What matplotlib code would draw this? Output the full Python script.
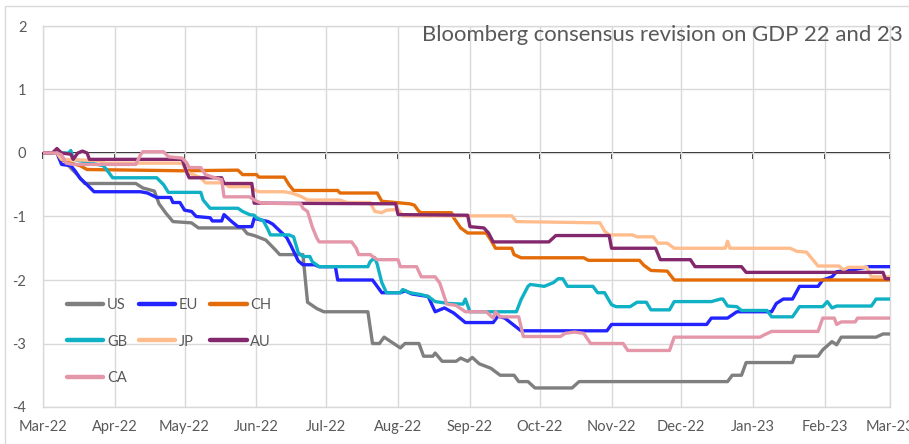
import matplotlib
matplotlib.use("Agg")
import matplotlib.pyplot as plt
import pandas as pd
from matplotlib.patches import Rectangle

plt.rcParams['font.family'] = ['Lato', 'DejaVu Sans']
plt.rcParams['axes.unicode_minus'] = False

title = "Bloomberg consensus revision on GDP 22 and 23"

month_starts = ["2022-03-01", "2022-04-01", "2022-05-01", "2022-06-01", "2022-07-01",
                "2022-08-01", "2022-09-01", "2022-10-01", "2022-11-01", "2022-12-01",
                "2023-01-01", "2023-02-01", "2023-03-01"]
month_labels = ["Mar-22", "Apr-22", "May-22", "Jun-22", "Jul-22", "Aug-22", "Sep-22",
                "Oct-22", "Nov-22", "Dec-22", "Jan-23", "Feb-23", "Mar-23"]
y_ticks = [-4, -3, -2, -1, 0, 1, 2]
y_labels = ["-4", "-3", "-2", "-1", "0", "1", "2"]

# Revision paths (percentage points) at each change date
us_dates = ["2022-03-01", "2022-03-08", "2022-03-12", "2022-03-16", "2022-03-19", "2022-04-10",
            "2022-04-13", "2022-04-18", "2022-04-20", "2022-04-23", "2022-04-26", "2022-05-04",
            "2022-05-07", "2022-05-26", "2022-05-28", "2022-05-31", "2022-06-05", "2022-06-09",
            "2022-06-11", "2022-06-21", "2022-06-23", "2022-06-27", "2022-06-30", "2022-07-19",
            "2022-07-21", "2022-07-24", "2022-07-26", "2022-08-02", "2022-08-04", "2022-08-10",
            "2022-08-12", "2022-08-16", "2022-08-17", "2022-08-20", "2022-08-26", "2022-08-28",
            "2022-08-31", "2022-09-02", "2022-09-05", "2022-09-10", "2022-09-14", "2022-09-20",
            "2022-09-22", "2022-09-26", "2022-09-29", "2022-10-15", "2022-10-18", "2022-12-21",
            "2022-12-23", "2022-12-27", "2022-12-29", "2023-01-18", "2023-01-19", "2023-01-29",
            "2023-01-31", "2023-02-04", "2023-02-06", "2023-02-08", "2023-02-23", "2023-02-26",
            "2023-03-01"]
us_vals = [0, 0, -0.2, -0.35, -0.48, -0.48,
           -0.55, -0.6, -0.8, -0.95, -1.08, -1.1,
           -1.18, -1.18, -1.27, -1.3, -1.37, -1.52,
           -1.6, -1.6, -2.35, -2.45, -2.5, -2.5,
           -3.0, -3.0, -2.9, -3.07, -3.0, -3.0,
           -3.2, -3.2, -3.15, -3.28, -3.28, -3.23,
           -3.28, -3.22, -3.32, -3.39, -3.5, -3.5,
           -3.6, -3.6, -3.7, -3.7, -3.6, -3.6,
           -3.5, -3.5, -3.3, -3.3, -3.2, -3.2,
           -3.1, -2.97, -3.02, -2.9, -2.9, -2.85,
           -2.85]

eu_dates = ["2022-03-01", "2022-03-07", "2022-03-09", "2022-03-13", "2022-03-15", "2022-03-17",
            "2022-03-20", "2022-03-23", "2022-04-12", "2022-04-15", "2022-04-19", "2022-04-25",
            "2022-04-26", "2022-04-29", "2022-05-01", "2022-05-04", "2022-05-06", "2022-05-12",
            "2022-05-13", "2022-05-17", "2022-05-18", "2022-05-21", "2022-05-24", "2022-05-30",
            "2022-05-31", "2022-06-06", "2022-06-08", "2022-06-14", "2022-06-16", "2022-06-19",
            "2022-06-21", "2022-06-26", "2022-06-28", "2022-07-05", "2022-07-06", "2022-07-21",
            "2022-07-25", "2022-08-02", "2022-08-04", "2022-08-07", "2022-08-14", "2022-08-17",
            "2022-08-21", "2022-08-25", "2022-08-30", "2022-09-11", "2022-09-13", "2022-09-16",
            "2022-09-23", "2022-10-30", "2022-11-01", "2022-12-12", "2022-12-14", "2022-12-21",
            "2022-12-25", "2023-01-09", "2023-01-11", "2023-01-14", "2023-01-18", "2023-01-21",
            "2023-01-29", "2023-01-31", "2023-02-04", "2023-02-06", "2023-02-13", "2023-02-20",
            "2023-03-01"]
eu_vals = [0, 0, -0.18, -0.2, -0.29, -0.4,
           -0.5, -0.61, -0.61, -0.63, -0.7, -0.7,
           -0.78, -0.78, -0.9, -0.92, -1.0, -1.02,
           -1.07, -1.07, -0.97, -1.07, -1.16, -1.16,
           -1.03, -1.08, -1.12, -1.33, -1.47, -1.7,
           -1.76, -1.76, -1.79, -1.79, -2.0, -2.0,
           -2.2, -2.2, -2.17, -2.22, -2.26, -2.5,
           -2.44, -2.52, -2.67, -2.67, -2.57, -2.6,
           -2.8, -2.8, -2.7, -2.7, -2.6, -2.6,
           -2.5, -2.5, -2.37, -2.3, -2.3, -2.1,
           -2.1, -2.0, -1.95, -1.87, -1.84, -1.79,
           -1.79]

ch_dates = ["2022-03-01", "2022-03-07", "2022-03-09", "2022-03-11", "2022-03-17", "2022-03-20",
            "2022-04-30", "2022-05-24", "2022-05-26", "2022-06-01", "2022-06-02", "2022-06-13",
            "2022-06-15", "2022-06-17", "2022-07-06", "2022-07-07", "2022-07-23", "2022-07-25",
            "2022-08-06", "2022-08-08", "2022-08-10", "2022-08-11", "2022-08-24", "2022-08-25",
            "2022-08-28", "2022-08-31", "2022-09-08", "2022-09-10", "2022-09-12", "2022-09-19",
            "2022-09-20", "2022-09-23", "2022-10-20", "2022-10-22", "2022-11-13", "2022-11-15",
            "2022-11-18", "2022-11-25", "2022-11-28", "2023-03-01"]
ch_vals = [0, 0, -0.1, -0.14, -0.2, -0.26,
           -0.28, -0.27, -0.34, -0.34, -0.38, -0.38,
           -0.5, -0.59, -0.59, -0.63, -0.63, -0.76,
           -0.8, -0.82, -0.92, -0.94, -0.94, -1.02,
           -1.18, -1.26, -1.26, -1.37, -1.5, -1.5,
           -1.6, -1.65, -1.65, -1.69, -1.69, -1.77,
           -1.85, -1.86, -2.0, -2.0]

gb_dates = ["2022-03-01", "2022-03-12", "2022-03-13", "2022-03-14", "2022-03-27", "2022-03-29",
            "2022-03-31", "2022-04-19", "2022-04-22", "2022-04-24", "2022-05-08", "2022-05-09",
            "2022-05-12", "2022-05-24", "2022-05-26", "2022-05-29", "2022-05-31", "2022-06-01",
            "2022-06-04", "2022-06-06", "2022-06-07", "2022-06-15", "2022-06-17", "2022-06-19",
            "2022-06-21", "2022-06-24", "2022-06-25", "2022-06-28", "2022-07-19", "2022-07-20",
            "2022-07-22", "2022-07-23", "2022-07-25", "2022-07-27", "2022-08-02", "2022-08-03",
            "2022-08-06", "2022-08-11", "2022-08-14", "2022-08-17", "2022-08-23", "2022-08-29",
            "2022-08-30", "2022-09-01", "2022-09-21", "2022-09-23", "2022-09-26", "2022-09-27",
            "2022-10-03", "2022-10-07", "2022-10-09", "2022-10-11", "2022-10-13", "2022-10-24",
            "2022-10-26", "2022-10-29", "2022-11-01", "2022-11-03", "2022-11-09", "2022-11-12",
            "2022-11-16", "2022-11-18", "2022-11-26", "2022-11-28", "2022-12-14", "2022-12-18",
            "2022-12-19", "2022-12-21", "2022-12-25", "2022-12-27", "2023-01-07", "2023-01-09",
            "2023-01-18", "2023-01-21", "2023-01-31", "2023-02-02", "2023-02-04", "2023-02-06",
            "2023-02-21", "2023-02-23", "2023-03-01"]
gb_vals = [0, 0, 0.04, -0.1, -0.2, -0.29,
           -0.39, -0.39, -0.5, -0.62, -0.62, -0.74,
           -0.87, -0.87, -0.92, -0.97, -0.98, -1.02,
           -1.07, -1.21, -1.29, -1.29, -1.32, -1.57,
           -1.63, -1.63, -1.71, -1.79, -1.79, -1.71,
           -1.65, -1.75, -2.04, -2.2, -2.2, -2.15,
           -2.2, -2.23, -2.26, -2.34, -2.37, -2.38,
           -2.3, -2.5, -2.5, -2.31, -2.1, -2.07,
           -2.1, -2.04, -1.98, -1.98, -2.1, -2.1,
           -2.2, -2.2, -2.39, -2.42, -2.42, -2.35,
           -2.35, -2.47, -2.47, -2.34, -2.34, -2.3,
           -2.3, -2.41, -2.42, -2.48, -2.48, -2.58,
           -2.58, -2.42, -2.42, -2.34, -2.44, -2.41,
           -2.41, -2.3, -2.3]

jp_dates = ["2022-03-01", "2022-03-07", "2022-03-09", "2022-03-25", "2022-03-28", "2022-04-30",
            "2022-05-02", "2022-05-08", "2022-05-10", "2022-05-18", "2022-05-20", "2022-05-30",
            "2022-05-31", "2022-06-02", "2022-06-13", "2022-06-16", "2022-06-20", "2022-06-23",
            "2022-07-07", "2022-07-10", "2022-07-20", "2022-07-22", "2022-07-25", "2022-07-27",
            "2022-08-01", "2022-08-03", "2022-09-19", "2022-09-21", "2022-10-27", "2022-10-29",
            "2022-10-31", "2022-11-10", "2022-11-12", "2022-11-19", "2022-11-21", "2022-11-25",
            "2022-11-28", "2022-12-20", "2022-12-21", "2022-12-22", "2023-01-17", "2023-01-20",
            "2023-01-24", "2023-01-29", "2023-02-07", "2023-02-09", "2023-02-11", "2023-02-19",
            "2023-02-21", "2023-03-01"]
jp_vals = [0, 0, -0.1, -0.12, -0.16, -0.16,
           -0.3, -0.39, -0.47, -0.47, -0.53, -0.53,
           -0.58, -0.61, -0.61, -0.63, -0.68, -0.74,
           -0.74, -0.78, -0.78, -0.92, -0.94, -0.9,
           -0.89, -0.99, -0.99, -1.08, -1.1, -1.23,
           -1.29, -1.29, -1.32, -1.32, -1.42, -1.42,
           -1.5, -1.5, -1.39, -1.5, -1.5, -1.55,
           -1.56, -1.78, -1.78, -1.84, -1.8, -1.8,
           -1.95, -1.95]

au_dates = ["2022-03-01", "2022-03-05", "2022-03-07", "2022-03-09", "2022-03-13", "2022-03-14",
            "2022-03-16", "2022-03-18", "2022-03-20", "2022-03-21", "2022-04-30", "2022-05-02",
            "2022-05-03", "2022-05-17", "2022-05-18", "2022-05-30", "2022-05-31", "2022-07-31",
            "2022-08-01", "2022-08-31", "2022-09-01", "2022-09-07", "2022-09-09", "2022-09-11",
            "2022-10-05", "2022-10-08", "2022-10-31", "2022-11-01", "2022-11-20", "2022-11-22",
            "2022-12-05", "2022-12-07", "2022-12-27", "2022-12-29", "2023-02-26", "2023-02-27",
            "2023-03-01"]
au_vals = [0, 0, 0.07, 0.0, -0.02, -0.1,
           0.0, 0.03, 0.0, -0.1, -0.1, -0.31,
           -0.39, -0.39, -0.48, -0.48, -0.79, -0.8,
           -0.97, -0.98, -1.16, -1.18, -1.26, -1.4,
           -1.4, -1.3, -1.3, -1.5, -1.5, -1.68,
           -1.68, -1.79, -1.79, -1.88, -1.88, -1.98,
           -1.98]

ca_dates = ["2022-03-01", "2022-03-07", "2022-03-09", "2022-03-11", "2022-03-14", "2022-04-10",
            "2022-04-12", "2022-04-13", "2022-04-22", "2022-04-24", "2022-04-30", "2022-05-02",
            "2022-05-03", "2022-05-08", "2022-05-10", "2022-05-14", "2022-05-17", "2022-05-18",
            "2022-05-29", "2022-05-31", "2022-06-03", "2022-06-20", "2022-06-21", "2022-06-23",
            "2022-06-25", "2022-06-27", "2022-06-28", "2022-07-12", "2022-07-14", "2022-07-15",
            "2022-07-20", "2022-07-23", "2022-08-01", "2022-08-02", "2022-08-09", "2022-08-11",
            "2022-08-17", "2022-08-19", "2022-08-22", "2022-08-26", "2022-08-30", "2022-09-08",
            "2022-09-11", "2022-09-12", "2022-09-14", "2022-09-22", "2022-09-24", "2022-10-10",
            "2022-10-12", "2022-10-16", "2022-10-20", "2022-10-23", "2022-11-06", "2022-11-08",
            "2022-11-26", "2022-11-28", "2023-01-04", "2023-01-06", "2023-01-09", "2023-01-29",
            "2023-01-31", "2023-02-05", "2023-02-06", "2023-02-08", "2023-02-14", "2023-02-15",
            "2023-03-01"]
ca_vals = [0, 0, -0.03, -0.16, -0.18, -0.18,
           -0.03, 0.02, 0.02, -0.06, -0.08, -0.16,
           -0.23, -0.23, -0.34, -0.39, -0.42, -0.69,
           -0.69, -0.74, -0.79, -0.8, -0.87, -0.92,
           -1.16, -1.34, -1.4, -1.4, -1.5, -1.6,
           -1.6, -1.68, -1.68, -1.79, -1.79, -1.95,
           -1.95, -2.05, -2.38, -2.4, -2.5, -2.5,
           -2.6, -2.5, -2.58, -2.58, -2.89, -2.89,
           -2.84, -2.82, -2.84, -3.0, -3.0, -3.11,
           -3.11, -2.9, -2.9, -2.86, -2.81, -2.81,
           -2.6, -2.6, -2.7, -2.66, -2.66, -2.6,
           -2.6]

series = [
    ("US", us_dates, us_vals, "#7F7F7F"),
    ("EU", eu_dates, eu_vals, "#2323FF"),
    ("CH", ch_dates, ch_vals, "#E36C09"),
    ("GB", gb_dates, gb_vals, "#10B1C5"),
    ("JP", jp_dates, jp_vals, "#FFBD8E"),
    ("AU", au_dates, au_vals, "#84286E"),
    ("CA", ca_dates, ca_vals, "#E497A9"),
]

W, H = 909, 444
fig = plt.figure(figsize=(W / 100, H / 100), dpi=100)
fig.patch.set_facecolor("white")

# light outer frame of the chart area
fig.add_artist(Rectangle((5 / W, -0.05), 1.2, (H - 6.5) / H + 0.05,
                         transform=fig.transFigure, fill=False,
                         edgecolor="#D9D9D9", linewidth=1.0))

ax = fig.add_axes([43 / W, 1 - 407 / H, (890 - 43) / W, (407 - 26) / H])

handles = {}
for name, d, v, c in series:
    (ln,) = ax.plot(pd.to_datetime(d), v, color=c, lw=2.4, label=name,
                    solid_capstyle="round", solid_joinstyle="round", zorder=3)
    handles[name] = ln

months = pd.to_datetime(month_starts)
ax.set_xlim(months[0], months[-1])
ax.set_ylim(y_ticks[0], y_ticks[-1])
ax.set_xticks(months)
ax.set_xticklabels(month_labels)
ax.set_yticks(y_ticks)
ax.set_yticklabels(y_labels)
ax.tick_params(axis="x", length=0, pad=9.5, labelsize=10.5, labelcolor="#595959")
ax.tick_params(axis="y", length=0, pad=12, labelsize=10.5, labelcolor="#595959")
ax.grid(True, color="#D9D9D9", lw=1.0, zorder=0)
ax.set_axisbelow(True)
for s in ax.spines.values():
    s.set_color("#D9D9D9")
    s.set_linewidth(1.0)

# horizontal axis crossing at zero, with month tick marks
zero_frac = (0 - y_ticks[0]) / (y_ticks[-1] - y_ticks[0])
sec = ax.secondary_xaxis(zero_frac)
sec.set_alignment("bottom")
sec.set_xticks(months)
sec.spines["bottom"].set_color("black")
sec.spines["bottom"].set_linewidth(1.3)
sec.tick_params(axis="x", direction="out", length=4, width=1.2, color="black",
                labelbottom=False, labeltop=False)

order = ["US", "GB", "CA", "EU", "JP", "CH", "AU"]
leg = ax.legend([handles[n] for n in order], order, ncol=3, frameon=False,
                loc="upper left", bbox_to_anchor=((67 - 43) / 847, (407 - 298) / 381),
                borderpad=0, borderaxespad=0, handlelength=2.5, handletextpad=0.25,
                columnspacing=0.8, labelspacing=1.55, fontsize=10.5,
                labelcolor="#595959")
for lh in leg.get_lines():
    lh.set_linewidth(3.2)

fig.text(903 / W, 1 - 35 / H, title, ha="right", va="center", fontsize=15.9,
         color="#595959")

fig.savefig("out.png", dpi=100, facecolor="white")
